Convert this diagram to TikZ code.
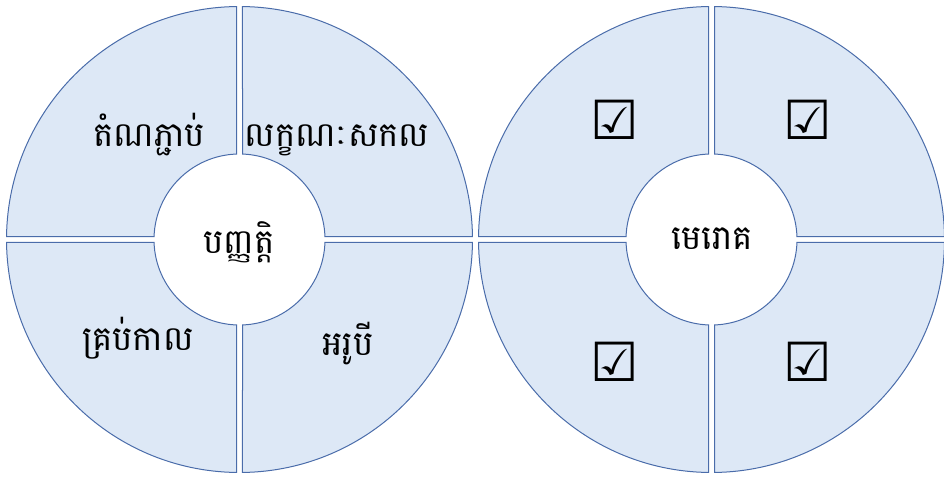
\documentclass[tikz,border=0pt]{standalone}
\usepackage{fontspec}
\newfontfamily\khmer[Script=Khmer]{Battambang}
\newfontfamily\symfont{DejaVu Sans}
\definecolor{qfill}{RGB}{221,232,246}
\definecolor{qline}{RGB}{74,108,170}
\pgfmathsetmacro\Ro{233}
\pgfmathsetmacro\Ri{85.5}
\pgfmathsetmacro\gp{3}
\pgfmathsetmacro\ao{asin(\gp/\Ro)}
\pgfmathsetmacro\bo{asin(\gp/\Ri)}
\tikzset{
  qshape/.style={draw=qline, fill=qfill, line width=1pt},
  quarter/.pic={\path[qshape] (\ao:\Ro pt) arc[start angle=\ao, end angle=90-\ao, radius=\Ro pt] -- (90-\bo:\Ri pt) arc[start angle=90-\bo, end angle=\bo, radius=\Ri pt] -- cycle;},
  khtext/.style={font=\khmer\fontsize{34}{40}\selectfont, anchor=base, inner sep=0pt},
  checkmk/.style={font=\symfont\fontsize{54}{60}\selectfont, inner sep=0pt},
}
\begin{document}
\begin{tikzpicture}[x=1pt,y=1pt]
\useasboundingbox (0,0) rectangle (944,477);
\coordinate (L) at (239.5,237.5);
\coordinate (R) at (711.5,237.5);
\foreach \c in {L,R}{
  \pic[rotate=0] at (\c) {quarter};
  \pic[rotate=90] at (\c) {quarter};
  \pic[rotate=180] at (\c) {quarter};
  \pic[rotate=270] at (\c) {quarter};
}
\node[khtext] (ul) at (149,330) {តំណភ្ជាប់};
\node[khtext] (ur) at (337,330) {លក្ខណៈសកល};
\node[khtext] (ll) at (138,127) {គ្រប់កាល};
\node[khtext] (lr) at (348,122) {អរូបី};
\node[khtext] (cl) at (239,223) {បញ្ញត្តិ};
\node[khtext] (cr) at (712,227) {មេរោគ};
\node[checkmk] (k1) at (615,357) {☑};
\node[checkmk] (k2) at (808,357) {☑};
\node[checkmk] (k3) at (615,115) {☑};
\node[checkmk] (k4) at (808,115) {☑};
\end{tikzpicture}
\end{document}
